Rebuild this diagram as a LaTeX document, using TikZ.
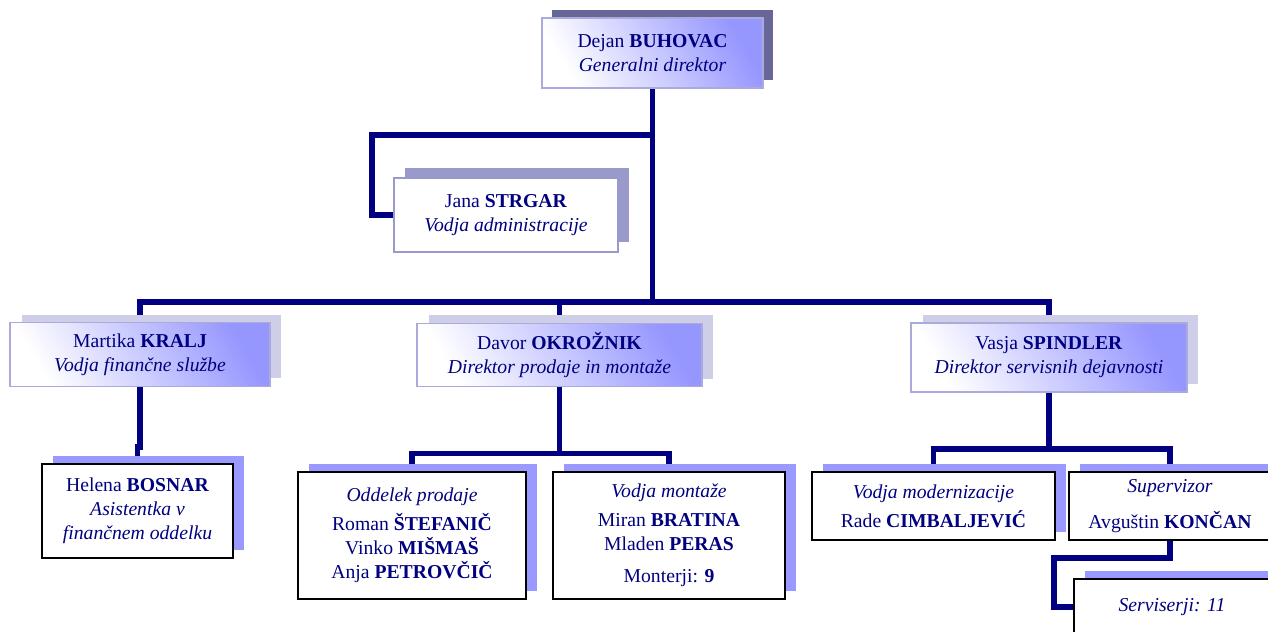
\documentclass[tikz,border=0pt]{standalone}
\usepackage{fontspec}
\setmainfont{Liberation Serif}
\usetikzlibrary{shadows,backgrounds,positioning}
\definecolor{linkcolor}{RGB}{0, 0, 128}
\definecolor{gradcolor}{RGB}{150, 150, 255}
\definecolor{framecolor}{RGB}{170, 170, 220}
\definecolor{chiefshadow}{RGB}{102, 102, 153}
\definecolor{adminshadow}{RGB}{153, 153, 204}
\definecolor{headshadow}{RGB}{206, 206, 232}
\definecolor{unitshadow}{RGB}{153, 153, 255}
\newcommand{\orgfont}{\fontsize{11.2}{13.6}\selectfont}

\begin{document}
\begin{tikzpicture}[x=0.02cm, y=-0.02cm,
    chief/.style={rectangle, draw=framecolor, line width=0.8pt, top color=gradcolor, bottom color=white, shading angle=-60, minimum width=4.42cm, minimum height=1.4cm, align=center, text=linkcolor, font=\orgfont, general shadow={fill=chiefshadow, shadow xshift=0.2cm, shadow yshift=0.16cm}},
    admin/.style={rectangle, draw=adminshadow, line width=0.8pt, fill=white, minimum width=4.48cm, minimum height=1.48cm, align=center, text=linkcolor, font=\orgfont, general shadow={fill=adminshadow, shadow xshift=0.22cm, shadow yshift=0.2cm}},
    head/.style={rectangle, draw=framecolor, line width=0.8pt, top color=gradcolor, bottom color=white, shading angle=-60, minimum height=1.27cm, align=center, text=linkcolor, font=\orgfont, general shadow={fill=headshadow, shadow xshift=0.23cm, shadow yshift=0.16cm}},
    unit/.style={rectangle, draw=black, line width=1.3pt, fill=white, align=center, text=linkcolor, font=\orgfont, general shadow={fill=unitshadow, shadow xshift=0.22cm, shadow yshift=0.16cm}},
    link/.style={draw=linkcolor, line width=3.2pt}
]
    \useasboundingbox (0,0) rectangle (1268,632);
    \clip (0,0) rectangle (1268,632);

    % Management
    \node[chief] (buhovac) at (652.5,53) {Dejan \textbf{BUHOVAC}\\\textit{Generalni direktor}};
    \node[admin] (strgar) at (506,215) {Jana \textbf{STRGAR}\\\textit{Vodja administracije}};

    % Department heads
    \node[head, minimum width=5.2cm] (kralj) at (140,354.5) {Martika \textbf{KRALJ}\\\textit{Vodja finančne službe}};
    \node[head, minimum width=5.7cm] (okroznik) at (559.5,355) {Davor \textbf{OKROŽNIK}\\\textit{Direktor prodaje in montaže}};
    \node[head, minimum width=5.52cm, minimum height=1.38cm] (spindler) at (1049,357.5) {Vasja \textbf{SPINDLER}\\\textit{Direktor servisnih dejavnosti}};

    % Units
    \node[unit, minimum width=3.82cm, minimum height=1.88cm] (bosnar) at (137.5,511) {Helena \textbf{BOSNAR}\\\textit{Asistentka v}\\\textit{finančnem oddelku}};
    \node[unit, minimum width=4.56cm, minimum height=2.54cm] (prodaja) at (412,535.5) {\textit{Oddelek prodaje}\\[3pt]Roman \textbf{ŠTEFANIČ}\\Vinko \textbf{MIŠMAŠ}\\Anja \textbf{PETROVČIČ}};
    \node[unit, minimum width=4.64cm, minimum height=2.54cm] (montaza) at (669,535.5) {\textit{Vodja montaže}\\[3pt]Miran \textbf{BRATINA}\\Mladen \textbf{PERAS}\\[4.5pt]Monterji: \textbf{9}};
    \node[unit, minimum width=4.86cm, minimum height=1.36cm] (moderniz) at (933.5,506) {\textit{Vodja modernizacije}\\[3pt]Rade \textbf{CIMBALJEVIĆ}};
    \node[unit, minimum width=4.04cm, minimum height=1.36cm] (supervizor) at (1170,506) {\textit{Supervizor}\\[7pt]Avguštin \textbf{KONČAN}};
    \node[unit, minimum width=3.92cm, minimum height=1.12cm] (serviserji) at (1172,607) {\textit{Serviserji: 11}};

    % Connectors
    \coordinate (bus) at (652.5,302);
    \coordinate (janatap) at (652.5,135);
    \coordinate (janabend) at (372,135);
    \coordinate (servbend) at (1054,558);
    \begin{scope}[on background layer]
        \draw[link] (buhovac.south) -- (bus);
        \draw[link] (janatap) -- (janabend) |- (strgar.west);
        \draw[link] (kralj.north) |- (bus) -| (spindler.north);
        \draw[link] (okroznik.north) -- (okroznik.north |- bus);
        \draw[link] (kralj.south) -- ++(0,60) -| (bosnar.north);
        \draw[link] (okroznik.south) -- ++(0,66) coordinate (prodtap);
        \draw[link] (prodaja.north) |- (prodtap) -| (montaza.north);
        \draw[link] (spindler.south) -- ++(0,56) coordinate (servtap);
        \draw[link] (moderniz.north) |- (servtap) -| (supervizor.north);
        \draw[link] (supervizor.south) |- (servbend) |- (serviserji.west);
    \end{scope}
\end{tikzpicture}
\end{document}
